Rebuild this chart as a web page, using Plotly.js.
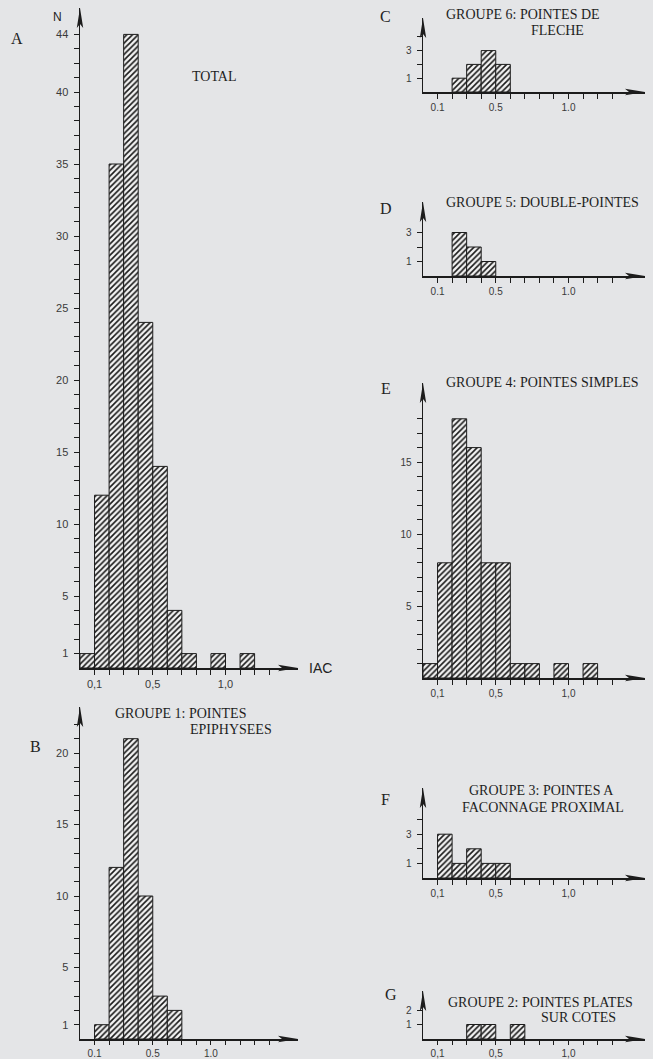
<!DOCTYPE html>
<html>
<head>
<meta charset="utf-8">
<script src="https://cdn.plot.ly/plotly-3.0.1.min.js"></script>
<style>
html,body{margin:0;padding:0;background:#e4e5e7;}
#chart{width:653px;height:1059px;}
</style>
</head>
<body>
<div id="chart"></div>
<script>
// ---- data (IAC bins of width 0.1, counts N) ----
const binCenters = [0.05, 0.15, 0.25, 0.35, 0.45, 0.55, 0.65, 0.75, 0.85, 0.95, 1.05, 1.15];
const totalCounts   = [1, 12, 35, 44, 24, 14, 4, 1, 0, 1, 0, 1];   // A TOTAL
const groupe1Counts = [0, 1, 12, 21, 10, 3, 2, 0, 0, 0, 0, 0];     // B
const groupe6Counts = [0, 0, 1, 2, 3, 2, 0, 0, 0, 0, 0, 0];        // C
const groupe5Counts = [0, 0, 3, 2, 1, 0, 0, 0, 0, 0, 0, 0];        // D
const groupe4Counts = [1, 8, 18, 16, 8, 8, 1, 1, 0, 1, 0, 1];      // E
const groupe3Counts = [0, 3, 1, 2, 1, 1, 0, 0, 0, 0, 0, 0];        // F
const groupe2Counts = [0, 0, 0, 1, 1, 0, 1, 0, 0, 0, 0, 0];        // G

const xTickVals = [0.1, 0.2, 0.3, 0.4, 0.5, 0.6, 0.7, 0.8, 0.9, 1.0, 1.1, 1.2, 1.3];
const xLabelsComma = {0.1: "0,1", 0.5: "0,5", 1.0: "1,0"};
const xLabelsDot   = {0.1: "0.1", 0.5: "0.5", 1.0: "1.0"};
const xLabelsB     = {0.1: "0.1", 0.5: "0.5", 0.9: "1.0"};

const yLabelsA = [1, 5, 10, 15, 20, 25, 30, 35, 40, 44];
const yLabelsB = [1, 5, 10, 15, 20];
const yLabelsC = [1, 3];
const yLabelsD = [1, 3];
const yLabelsE = [5, 10, 15];
const yLabelsF = [1, 3];
const yLabelsG = [1, 2];

// ---- layout geometry (pixels) ----
const W = 653, H = 1059;
const PX_PER_UNIT_X = 145.5;
const panels = [
  {key:"A", counts: totalCounts,   xl: xLabelsComma, yl: yLabelsA, ymaxTick: 44, x0: 80,  xTip: 298, yAx: 668,  yTip: 8,   unitY: 14.4, fs: 11, xfs: 11, xtl: 5},
  {key:"B", counts: groupe1Counts, xl: xLabelsB,     yl: yLabelsB, ymaxTick: 22, x0: 80,  xTip: 298, yAx: 1039, yTip: 707, unitY: 14.3, fs: 11, xfs: 10, xtl: 4},
  {key:"C", counts: groupe6Counts, xl: xLabelsDot,   yl: yLabelsC, ymaxTick: 4,  x0: 423, xTip: 645, yAx: 92,   yTip: 18,  unitY: 13.8, fs: 10, xfs: 10, xtl: 5},
  {key:"D", counts: groupe5Counts, xl: xLabelsDot,   yl: yLabelsD, ymaxTick: 3,  x0: 423, xTip: 645, yAx: 276,  yTip: 202, unitY: 14.5, fs: 10, xfs: 10, xtl: 5},
  {key:"E", counts: groupe4Counts, xl: xLabelsComma, yl: yLabelsE, ymaxTick: 18, x0: 423, xTip: 645, yAx: 678,  yTip: 383, unitY: 14.4, fs: 10, xfs: 10, xtl: 5},
  {key:"F", counts: groupe3Counts, xl: xLabelsComma, yl: yLabelsF, ymaxTick: 4,  x0: 423, xTip: 645, yAx: 878,  yTip: 788, unitY: 14.6, fs: 10, xfs: 10, xtl: 5},
  {key:"G", counts: groupe2Counts, xl: xLabelsComma, yl: yLabelsG, ymaxTick: 2,  x0: 423, xTip: 645, yAx: 1039, yTip: 991, unitY: 14.5, fs: 10, xfs: 10, xtl: 4}
];

const px = x => x / W;
const py = y => 1 - y / H;

const INK = "#1c1c1c";
const SANS = "Liberation Sans, Arial, sans-serif";
const SERIF = "Liberation Serif, Times New Roman, serif";

const traces = [];
const layout = {
  width: W, height: H, autosize: false,
  margin: {l: 0, r: 0, t: 0, b: 0, pad: 0},
  paper_bgcolor: "#e4e5e7", plot_bgcolor: "rgba(0,0,0,0)",
  showlegend: false, bargap: 0,
  shapes: [], annotations: []
};

panels.forEach((p, i) => {
  const n = i + 1;
  const xa = n === 1 ? "x" : "x" + n;
  const ya = n === 1 ? "y" : "y" + n;
  traces.push({
    type: "bar", x: binCenters, y: p.counts.map(v => v === 0 ? null : v), width: 0.1,
    xaxis: xa, yaxis: ya, hoverinfo: "x+y",
    marker: {
      color: "#f3f3f3",
      line: {color: INK, width: 1},
      pattern: {shape: "/", fgcolor: "#1a1a1a", bgcolor: "#f3f3f3", size: 4, solidity: 0.4}
    }
  });
  const yTickVals = [];
  for (let k = 1; k <= p.ymaxTick; k++) yTickVals.push(k);
  const yTickText = yTickVals.map(v => p.yl.includes(v) ? String(v) : "");
  const xTickText = xTickVals.map(v => {
    const key = Math.round(v * 10) / 10;
    return p.xl[key] !== undefined ? p.xl[key] : "";
  });
  const xName = n === 1 ? "xaxis" : "xaxis" + n;
  const yName = n === 1 ? "yaxis" : "yaxis" + n;
  layout[xName] = {
    domain: [px(p.x0), px(p.xTip)], anchor: ya,
    range: [0, (p.xTip - p.x0) / PX_PER_UNIT_X],
    showgrid: false, zeroline: false, showline: true, linecolor: INK, linewidth: 1.5,
    ticks: "outside", ticklen: p.xtl, tickwidth: 1, tickcolor: INK,
    tickmode: "array", tickvals: xTickVals, ticktext: xTickText,
    tickfont: {family: SANS, size: p.xfs, color: "#3a3a3a"}, fixedrange: true
  };
  layout[yName] = {
    domain: [py(p.yAx), py(p.yTip)], anchor: xa,
    range: [0, (p.yAx - p.yTip) / p.unitY],
    showgrid: false, zeroline: false, showline: true, linecolor: INK, linewidth: 1.5,
    ticks: "outside", ticklen: 5, tickwidth: 1, tickcolor: INK,
    tickmode: "array", tickvals: yTickVals, ticktext: yTickText,
    tickfont: {family: SANS, size: p.fs, color: "#3a3a3a"}, ticklabelstandoff: 3, fixedrange: true
  };
  // arrow heads
  const aL = 20, aW = 3.2;
  layout.shapes.push({
    type: "path", xref: "paper", yref: "paper", line: {width: 0}, fillcolor: INK,
    path: `M${px(p.xTip)},${py(p.yAx)} L${px(p.xTip - aL)},${py(p.yAx - aW)} L${px(p.xTip - aL + 4)},${py(p.yAx)} L${px(p.xTip - aL)},${py(p.yAx + aW)} Z`
  });
  layout.shapes.push({
    type: "path", xref: "paper", yref: "paper", line: {width: 0}, fillcolor: INK,
    path: `M${px(p.x0)},${py(p.yTip)} L${px(p.x0 - aW)},${py(p.yTip + aL)} L${px(p.x0)},${py(p.yTip + aL - 4)} L${px(p.x0 + aW)},${py(p.yTip + aL)} Z`
  });
});

function txt(text, x, y, opts) {
  layout.annotations.push(Object.assign({
    text: text, xref: "paper", yref: "paper", x: px(x), y: py(y),
    xanchor: "center", yanchor: "middle", showarrow: false, borderpad: 0,
    font: {family: SERIF, size: 14, color: "#1e1e1e"}
  }, opts || {}));
}
// panel letters
const letterFont = {family: SERIF, size: 16, color: "#222"};
txt("A", 17, 38, {font: letterFont});
txt("B", 35, 746, {font: letterFont});
txt("C", 386, 16, {font: letterFont});
txt("D", 386, 208, {font: letterFont});
txt("E", 386, 388, {font: letterFont});
txt("F", 386, 799, {font: letterFont});
txt("G", 391, 994, {font: letterFont});
// axis names
txt("N", 57, 17, {font: {family: SANS, size: 12, color: "#222"}});
txt("IAC", 308, 668, {xanchor: "left", font: {family: SANS, size: 14, color: "#222"}});
// titles
txt("TOTAL", 214, 77);
txt("GROUPE 1: POINTES", 180, 713);
txt("EPIPHYSEES", 231, 729);
txt("GROUPE 6: POINTES DE", 523, 14);
txt("FLECHE", 557, 30);
txt("GROUPE 5: DOUBLE-POINTES", 542, 202);
txt("GROUPE 4: POINTES SIMPLES", 542, 382);
txt("GROUPE 3: POINTES A", 541, 790);
txt("FACONNAGE PROXIMAL", 543, 807);
txt("GROUPE 2: POINTES PLATES", 540, 1002);
txt("SUR COTES", 578, 1018);

Plotly.newPlot("chart", traces, layout, {staticPlot: true, displayModeBar: false});
</script>
</body>
</html>
